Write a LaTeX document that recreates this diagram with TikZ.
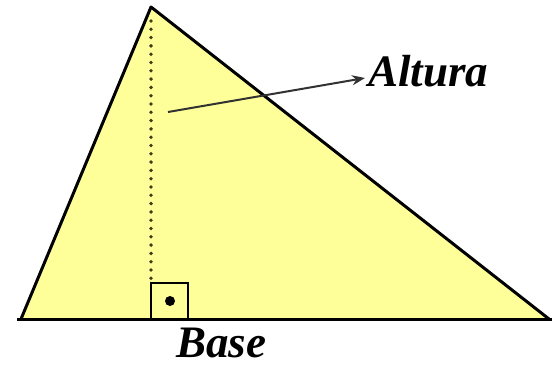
\documentclass[tikz,border=0pt]{standalone}
\usepackage{fontspec}
\setmainfont{Liberation Serif}
\usetikzlibrary{arrows.meta}
\definecolor{triyellow}{RGB}{255,255,153}
\definecolor{dotcol}{RGB}{60,60,25}
\tikzset{
  edge/.style={line width=3pt, line cap=round, line join=round, black},
  lbl/.style={font=\bfseries\itshape\fontsize{45}{45}\selectfont, inner sep=0pt},
  ptr/.style={line width=2pt, draw={rgb,255:red,50;green,50;blue,50}, -{Stealth[length=13pt,width=10pt]}},
}
\begin{document}
\begin{tikzpicture}[x=1pt,y=-1pt]
\useasboundingbox (0,0) rectangle (554,366);
\coordinate (A) at (151,7);
\coordinate (B) at (21,319);
\coordinate (C) at (549,319);
\coordinate (H) at (151,319);
\coordinate (BL) at (17,319);
\coordinate (BR) at (552,319);
\fill[triyellow] (A) -- (B) -- (C) -- cycle;
\draw[dotcol, line width=3.8pt, line cap=round, dash pattern=on 0pt off 8.3pt] ([yshift=-14pt]A) -- ([yshift=38pt]H);
\draw[line width=1.5pt] (H) rectangle ++(37,-36);
\fill (170,301) circle (5);
\draw[edge] (B) -- (A) -- (C);
\draw[line width=3pt] (BL) -- (BR);
\node[lbl, anchor=base west] (alt) at (368,87) {Altura};
\node[lbl, anchor=base west] (base) at (176,357) {Base};
\coordinate (s) at (168,112);
\draw[ptr] (s) -- ([xshift=-3pt,yshift=9pt]alt.base west);
\end{tikzpicture}
\end{document}
